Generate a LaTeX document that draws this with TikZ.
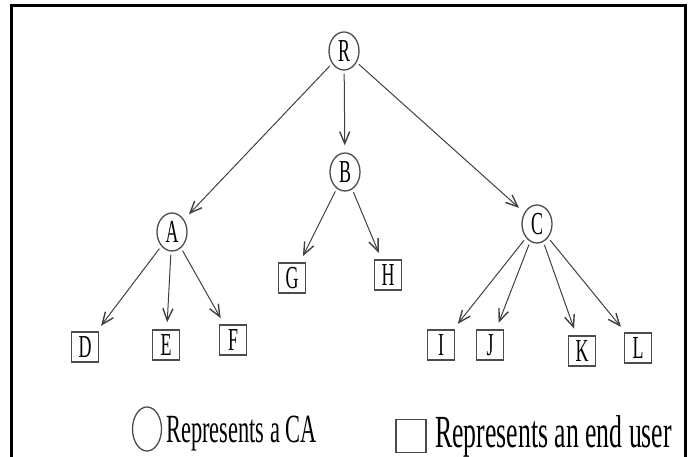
\documentclass[tikz,border=0pt]{standalone}
\usepackage{fontspec}
\setmainfont{Liberation Serif}[FakeStretch=0.56]
\usetikzlibrary{
	arrows.meta,
	shapes.geometric
}

\begin{document}
\begin{tikzpicture}[x=1pt,y=-1pt,
		ca/.style={ellipse,draw=black!70,line width=1.3pt,
			minimum width=30pt,minimum height=38pt,inner sep=0pt,
			font=\fontsize{32}{32}\selectfont,text height=21pt,text depth=0pt},
		enduser/.style={rectangle,draw=black!70,line width=1.3pt,
			minimum width=27pt,minimum height=30pt,inner sep=0pt,
			font=\fontsize{32}{32}\selectfont,text height=21pt,text depth=0pt},
		link/.style={draw=black!75,line width=1pt,-{Straight Barb[length=12pt,width=10pt,line width=1.4pt]},
			shorten <=3pt,shorten >=7pt}
	]
			\useasboundingbox (0,0) rectangle (694,457);
			\draw[line width=3pt] (11.5,457) -- (11.5,6) -- (685,6) -- (685,457);

			% certification authorities
			\node[ca] (R) at (344,51)  {R};
			\node[ca] (A) at (172,232) {A};
			\node[ca] (B) at (345,172) {B};
			\node[ca] (C) at (537,224) {C};

			% end users
			\node[enduser] (D) at (85,347)  {D};
			\node[enduser] (E) at (166,345) {E};
			\node[enduser] (F) at (233,340) {F};
			\node[enduser] (G) at (292,278) {G};
			\node[enduser] (H) at (388,275) {H};
			\node[enduser] (I) at (441,345) {I};
			\node[enduser] (J) at (490,345) {J};
			\node[enduser] (K) at (582,351) {K};
			\node[enduser] (L) at (638,348) {L};

			\draw[link] (R) -- (A);
			\draw[link] (R) -- (B);
			\draw[link] (R) -- (C);
			\draw[link] (A) -- (D);
			\draw[link] (A) -- (E);
			\draw[link] (A) -- (F);
			\draw[link] (B) -- (G);
			\draw[link] (B) -- (H);
			\draw[link] (C) -- (I);
			\draw[link] (C) -- (J);
			\draw[link] (C) -- (K);
			\draw[link] (C) -- (L);

			% legend
			\node[ca,minimum width=29pt,minimum height=44pt] (legca) at (147,429) {};
			\node[anchor=base west,inner sep=0pt,font=\fontsize{40}{40}\selectfont]
				(legcatext) at (166,442) {Represents a CA};
			\node[enduser,minimum width=30pt,minimum height=33pt] (leguser) at (411,436) {};
			\node[anchor=base west,inner sep=0pt,font=\fontsize{46}{46}\selectfont]
				(legusertext) at (435,447) {Represents an end user};
		\end{tikzpicture}
\end{document}
